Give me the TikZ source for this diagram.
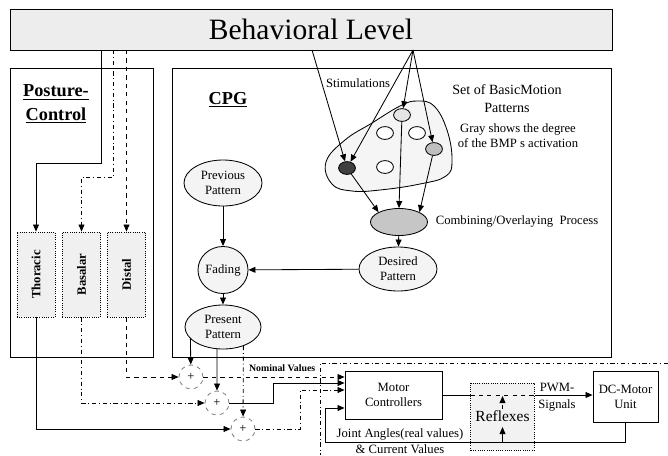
\documentclass[tikz,border=0pt]{standalone}
\usepackage{fontspec}
\setmainfont{Liberation Serif}
\usetikzlibrary{arrows.meta, shapes.geometric}

\begin{document}
\begin{tikzpicture}[x=0.025cm, y=-0.025cm, line width=0.6pt,
                >={Triangle[length=5pt, width=4.2pt]},
                every node/.style={align=center, font=\fontsize{9}{10.6}\selectfont},
                title/.style={font=\fontsize{13}{16.5}\selectfont\bfseries},
                joint/.style={draw, densely dotted, fill=gray!12, minimum width=0.95cm, minimum height=2.125cm, font=\fontsize{9}{10}\selectfont\bfseries},
                pattern/.style={draw, ellipse, fill=gray!9, inner sep=0pt, minimum width=1.95cm, minimum height=1.15cm},
                bmp/.style={draw, ellipse, fill=white, inner sep=0pt, minimum width=0.42cm, minimum height=0.32cm},
                summ/.style={draw=gray, dashed, circle, inner sep=0pt, minimum size=0.6cm},
                box/.style={draw, fill=white, inner sep=1pt}]
                \useasboundingbox (0,0) rectangle (668,455);
                \node[draw, fill=gray!14, minimum width=15.05cm, minimum height=1.025cm, font=\fontsize{21}{24}\selectfont] (behav) at (311,29.5) {Behavioral Level};
                \node[draw, minimum width=3.575cm, minimum height=7.225cm] (posture) at (81.5,212.5) {};
                \node[draw, minimum width=10.975cm, minimum height=7.225cm] (cpg) at (391.5,212.5) {};
                \node[title] (ptitle) at (56,104) {\underline{Posture-}\\\underline{Control}};
                \node[title] (cpgtitle) at (228,100) {\underline{CPG}};
                \node[joint] (thor) at (36,274.5) {\rotatebox{90}{Thoracic}};
                \node[joint] (basa) at (81.5,274.5) {\rotatebox{90}{Basalar}};
                \node[joint] (dist) at (126.5,274.5) {\rotatebox{90}{Distal}};
                \coordinate (b1) at (101,50);
                \coordinate (b2) at (113,50);
                \coordinate (b3) at (126.5,50);
                \draw[->] (b1) -- (101,163) -| (thor.north);
                \draw[->, dash dot] (b2) -- (113,177) -| (basa.north);
                \draw[->, dashed] (b3) -- (dist.north);
                \draw[fill=gray!8] plot[smooth cycle, tension=0.7] coordinates {(326,162) (345,140) (372,123) (400,106) (417,101) (434,106) (447,130) (452,160) (446,176) (420,184) (380,190) (352,191) (332,184)};
                \node[bmp, fill=gray!20] (bmptop) at (402,115) {};
                \node[bmp] (bmpa) at (385,133) {};
                \node[bmp] (bmpb) at (417,133) {};
                \node[bmp, fill=gray!50] (bmpgray) at (434,149) {};
                \node[bmp, fill=black!75] (bmpdark) at (347,168) {};
                \node[bmp] (bmpc) at (385,167) {};
                \node[draw, ellipse, fill=gray!45, minimum width=1.425cm, minimum height=0.675cm] (comb) at (399,222) {};
                \node[pattern] (previous) at (223,183) {Previous\\Pattern};
                \node[pattern, minimum width=1.25cm, minimum height=1.175cm] (fading) at (223,270) {Fading};
                \node[pattern, minimum width=1.9cm, minimum height=1.1cm] (present) at (223,327) {Present\\Pattern};
                \node[pattern, minimum height=1.1cm] (desired) at (398,269) {Desired\\Pattern};
                \node (stimlabel) at (358,83) {Stimulations};
                \node[font=\fontsize{10}{12.8}\selectfont] (setlabel) at (507,99) {Set of BasicMotion\\Patterns};
                \node (graylabel) at (518,135.5) {Gray shows the degree\\of the BMP s activation};
                \node (comblabel) at (517,221) {Combining/Overlaying\ \ Process};
                \coordinate (apex) at (413,50);
                \coordinate (stim) at (312,50);
                \draw[->] (stim) -- (bmpdark);
                \draw[->] (apex) -- (bmpdark);
                \draw[->] (apex) -- (bmptop);
                \draw[->] (apex) -- (bmpgray);
                \draw[->] (bmpdark) -- (comb.north west);
                \draw[->] (bmptop) -- (comb.north);
                \draw[->] (bmpgray) -- (comb.north east);
                \draw[->] (comb) -- (desired);
                \draw[->] (desired) -- (fading);
                \draw[->] (previous) -- (fading);
                \draw[->] (fading) -- (present);
                \node[summ] (sum1) at (191,377) {+};
                \node[summ] (sum2) at (217,403) {+};
                \node[summ] (sum3) at (243,429) {+};
                \node[box, minimum width=2.425cm, minimum height=1.2cm] (mc) at (393.5,395) {Motor\\Controllers};
                \node[draw, densely dotted, fill=gray!10, minimum width=1.475cm, minimum height=1.675cm, font=\fontsize{11}{13}\selectfont] (refl) at (502.5,416.5) {Reflexes};
                \node[box, minimum width=1.625cm, minimum height=1.275cm] (dc) at (625.5,396.5) {DC-Motor\\Unit};
                \node[anchor=west, font=\fontsize{7}{8}\selectfont\bfseries] (nominal) at (244,368) {Nominal Values};
                \node[font=\fontsize{9}{12}\selectfont] (pwm) at (557,397) {PWM-\\Signals};
                \node[font=\fontsize{9}{11.5}\selectfont] (feedback) at (400,441) {Joint Angles(real values)\\\& Current Values};
                \draw[dash dot, line width=0.4pt] (668,363) -- (320,363) -- (320,455);
                \draw[->] (present.200) -- (sum1);
                \draw[->] (present.255) -- (sum2);
                \draw[->, dash dot] (present.317) -- (sum3);
                \draw[->] (thor) |- (sum3);
                \draw[->, dash dot] (basa) |- (sum2);
                \draw[->, dashed] (dist) |- (sum1);
                \draw[->, dashed] (sum1) -- (sum1 -| mc.west);
                \draw[->] (sum2) -- (273,403) -- (273,383) -- (mc.west |- 0,383);
                \draw[->, dash dot] (sum3) -- (300,429) -- (300,390) -- (mc.west |- 0,390);
                \draw[->] (dc) -- (dc |- 0,442) -| (325,408) -- (mc.west |- 0,408);
                \draw (mc) -- (refl.west |- mc);
                \draw[dashed] (refl.west |- mc) -- (refl.east |- mc);
                \draw[->] (refl.east |- mc) -- (dc.west |- mc);
                \draw[->] (refl |- 0,442) -- (refl |- 0,427);
                \draw[->, densely dashed] (refl |- 0,409) -- (refl |- 0,396);
            \end{tikzpicture}
\end{document}
